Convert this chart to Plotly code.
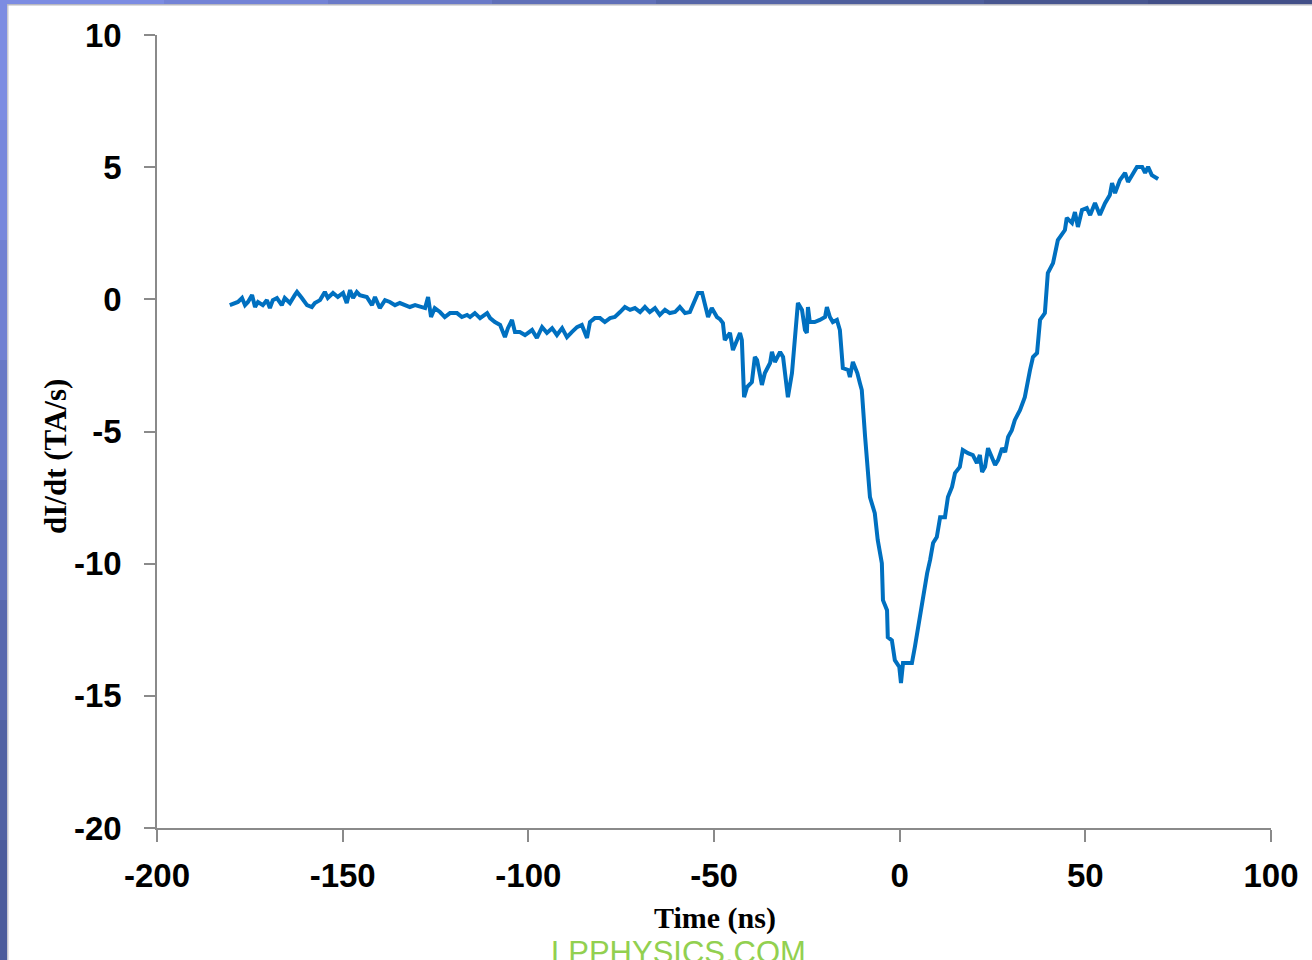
import plotly.graph_objects as go

# ---- data (time in ns, dI/dt in TA/s) ----
time_ns = [
    -180.4, -179.0, -178.2, -177.1, -176.3, -175.5, -174.4, -173.6, -172.8, -171.5,
    -170.4, -169.6, -168.8, -167.7, -166.4, -165.6, -164.2, -162.9, -162.3, -161.0,
    -159.6, -158.3, -157.5, -156.1, -154.8, -154.0, -152.6, -151.3, -149.9, -148.9,
    -148.0, -147.2, -146.2, -145.4, -143.5, -142.1, -141.3, -140.0, -138.6, -137.3,
    -135.9, -134.6, -133.2, -131.9, -130.5, -129.2, -127.8, -127.0, -126.2, -125.2,
    -123.8, -122.5, -121.1, -119.2, -117.9, -116.5, -115.7, -114.4, -113.0, -111.1,
    -110.3, -109.0, -107.6, -106.3, -105.5, -104.4, -103.6, -102.3, -100.9, -99.0,
    -97.7, -96.3, -95.0, -93.6, -92.3, -90.9, -89.6, -88.3, -86.9, -85.6,
    -84.2, -83.4, -82.1, -80.7, -79.4, -78.0, -76.7, -75.3, -74.0, -72.6,
    -71.3, -69.9, -68.6, -67.3, -65.9, -64.6, -63.2, -61.9, -60.5, -59.2,
    -57.8, -56.5, -55.1, -54.3, -53.2, -52.4, -51.6, -50.6, -49.2, -48.4,
    -47.6, -47.1, -45.7, -44.9, -43.8, -43.0, -42.5, -41.9, -41.1, -39.8,
    -39.0, -38.4, -37.1, -36.3, -34.9, -34.4, -33.6, -32.2, -31.4, -30.4,
    -30.1, -29.0, -28.2, -27.4, -26.3, -25.5, -25.0, -24.7, -24.2, -22.9,
    -21.5, -20.1, -19.6, -18.8, -18.0, -16.9, -16.1, -15.5, -15.3, -13.9,
    -13.4, -12.6, -11.4, -10.7, -10.2, -9.3, -8.0, -6.7, -5.9, -4.8,
    -4.5, -3.4, -3.2, -2.1, -1.3, -0.1, 0.35, 0.9, 2.2, 3.3,
    4.1, 5.5, 6.3, 7.4, 8.2, 9.0, 10.0, 10.9, 12.2, 13.0,
    14.1, 14.9, 16.2, 17.0, 18.4, 19.7, 20.8, 21.6, 22.2, 23.0,
    23.8, 24.9, 25.7, 26.5, 27.6, 28.4, 29.2, 30.2, 31.0, 32.4,
    33.7, 35.1, 35.9, 37.0, 37.8, 39.1, 39.9, 41.3, 42.6, 44.5,
    45.0, 46.4, 47.2, 48.0, 49.1, 50.4, 51.3, 52.6, 53.9, 55.3,
    56.6, 57.2, 58.0, 59.3, 60.7, 61.5, 62.5, 63.9, 65.3, 66.1,
    66.9, 67.9, 69.6,
]

didt_tas = [
    -0.22, -0.14, -0.10, 0.05, -0.22, -0.10, 0.16, -0.29, -0.10, -0.22,
    -0.03, -0.33, -0.03, 0.05, -0.22, 0.05, -0.14, 0.16, 0.28, 0.05,
    -0.22, -0.29, -0.14, -0.03, 0.28, 0.05, 0.24, 0.09, 0.24, -0.14,
    0.35, 0.05, 0.28, 0.16, 0.09, -0.22, 0.09, -0.33, -0.03, -0.10,
    -0.22, -0.14, -0.22, -0.29, -0.22, -0.29, -0.33, 0.09, -0.67, -0.33,
    -0.48, -0.67, -0.52, -0.52, -0.67, -0.59, -0.67, -0.52, -0.71, -0.52,
    -0.71, -0.86, -0.97, -1.43, -1.09, -0.78, -1.24, -1.24, -1.35, -1.16,
    -1.46, -1.05, -1.27, -1.09, -1.35, -1.09, -1.43, -1.24, -1.05, -0.97,
    -1.46, -0.86, -0.71, -0.71, -0.86, -0.71, -0.67, -0.48, -0.29, -0.40,
    -0.33, -0.48, -0.29, -0.48, -0.33, -0.59, -0.40, -0.52, -0.48, -0.29,
    -0.52, -0.48, -0.03, 0.24, 0.24, -0.22, -0.67, -0.33, -0.67, -0.75,
    -0.90, -1.54, -1.27, -1.92, -1.54, -1.27, -1.54, -3.70, -3.32, -3.13,
    -2.18, -2.30, -3.24, -2.79, -2.41, -1.99, -2.37, -1.99, -2.18, -3.32,
    -3.70, -2.79, -1.54, -0.14, -0.40, -1.16, -1.27, -0.29, -0.86, -0.86,
    -0.78, -0.67, -0.29, -0.67, -0.86, -0.78, -1.16, -2.03, -2.60, -2.67,
    -2.94, -2.37, -2.79, -3.17, -3.43, -5.21, -7.48, -8.09, -9.11, -9.98,
    -11.38, -11.76, -12.78, -12.90, -13.65, -13.91, -14.52, -13.76, -13.76, -13.76,
    -13.15, -11.87, -11.26, -10.36, -9.86, -9.22, -8.99, -8.24, -8.24, -7.48,
    -7.10, -6.57, -6.34, -5.70, -5.82, -5.89, -6.19, -5.89, -6.53, -6.34,
    -5.63, -5.97, -6.27, -6.08, -5.63, -5.78, -5.21, -4.95, -4.57, -4.19,
    -3.70, -2.68, -2.18, -2.03, -0.78, -0.52, 0.99, 1.37, 2.24, 2.62,
    3.08, 2.89, 3.30, 2.74, 3.38, 3.45, 3.19, 3.64, 3.19, 3.64,
    3.95, 4.40, 4.02, 4.51, 4.78, 4.44, 4.70, 5.01, 5.01, 4.78,
    5.01, 4.70, 4.55,
]

x_ticks = [-200, -150, -100, -50, 0, 50, 100]
y_ticks = [-20, -15, -10, -5, 0, 5, 10]
x_title = "Time (ns)"
y_title = "dI/dt (TA/s)"
watermark = "LPPHYSICS.COM"

# ---- layout geometry ----
W, H = 1312, 960
ML, MR, MT, MB = 157, 41, 35, 132
PW, PH = W - ML - MR, H - MT - MB


def px_to_paper_x(px):
    return (px - ML) / PW


def px_to_paper_y(py):
    return (H - MB - py) / PH


fig = go.Figure()
fig.add_trace(go.Scatter(
    x=time_ns, y=didt_tas, mode="lines",
    line=dict(color="#0070C0", width=4),
    showlegend=False, hoverinfo="skip",
))

axis_color = "#8a8a8a"
tick_font = dict(family="Liberation Sans, Arial, sans-serif", size=33,
                 color="black", weight="bold")

fig.update_xaxes(
    range=[-200, 100], tickvals=x_ticks, ticktext=[str(v) for v in x_ticks],
    showline=True, linecolor=axis_color, linewidth=1.5,
    ticks="outside", ticklen=12, tickwidth=1.5, tickcolor=axis_color,
    showgrid=False, zeroline=False, tickfont=tick_font,
    ticklabelstandoff=6,
)
fig.update_yaxes(
    range=[-20, 10], tickvals=y_ticks, ticktext=[str(v) for v in y_ticks],
    showline=True, linecolor=axis_color, linewidth=1.5,
    ticks="outside", ticklen=11, tickwidth=1.5, tickcolor=axis_color,
    showgrid=False, zeroline=False, tickfont=tick_font,
    ticklabelstandoff=16,
)

# frame decoration (blue slide border on left and top)
shapes = []
left_cols = ["#7c8ce2", "#7787dc", "#7080d2", "#6878c6", "#6070ba", "#5868ae", "#5262a4", "#4c5c9c"]
n = len(left_cols)
for i, c in enumerate(left_cols):
    shapes.append(dict(type="rect", xref="paper", yref="paper", layer="above",
                       x0=px_to_paper_x(0), x1=px_to_paper_x(7),
                       y0=px_to_paper_y(H * (i + 1) / n), y1=px_to_paper_y(H * i / n),
                       fillcolor=c, line=dict(width=0)))
top_cols = ["#7c8ce2", "#7383d6", "#6a7ac8", "#6070b8", "#5666a8", "#4e5e9c", "#485690", "#424f88"]
n = len(top_cols)
for i, c in enumerate(top_cols):
    shapes.append(dict(type="rect", xref="paper", yref="paper", layer="above",
                       x0=px_to_paper_x(W * i / n), x1=px_to_paper_x(W * (i + 1) / n),
                       y0=px_to_paper_y(4), y1=px_to_paper_y(0),
                       fillcolor=c, line=dict(width=0)))
shapes.append(dict(type="rect", xref="paper", yref="paper", layer="above",
                   x0=px_to_paper_x(7), x1=px_to_paper_x(8.5),
                   y0=px_to_paper_y(H), y1=px_to_paper_y(4),
                   fillcolor="#c8c8d0", line=dict(width=0)))
shapes.append(dict(type="rect", xref="paper", yref="paper", layer="above",
                   x0=px_to_paper_x(7), x1=px_to_paper_x(W),
                   y0=px_to_paper_y(5.5), y1=px_to_paper_y(4),
                   fillcolor="#b8b8c0", line=dict(width=0)))

annotations = [
    dict(text=f"<b>{x_title}</b>", xref="paper", yref="paper",
         x=px_to_paper_x(715), y=px_to_paper_y(918), xanchor="center", yanchor="middle",
         showarrow=False,
         font=dict(family="Liberation Serif, Times New Roman, serif", size=30, color="black")),
    dict(text=f"<b>{y_title}</b>", xref="paper", yref="paper",
         x=px_to_paper_x(55), y=px_to_paper_y(457), xanchor="center", yanchor="middle",
         textangle=-90, showarrow=False,
         font=dict(family="Liberation Serif, Times New Roman, serif", size=31, color="black")),
    dict(text=watermark, xref="paper", yref="paper",
         x=px_to_paper_x(678), y=px_to_paper_y(952), xanchor="center", yanchor="middle",
         showarrow=False,
         font=dict(family="Liberation Sans, Arial, sans-serif", size=31, color="#92d050")),
]

fig.update_layout(
    width=W, height=H, autosize=False,
    margin=dict(l=ML, r=MR, t=MT, b=MB, pad=0),
    paper_bgcolor="white", plot_bgcolor="white",
    shapes=shapes, annotations=annotations,
    showlegend=False,
)
fig.update_xaxes(automargin=False)
fig.update_yaxes(automargin=False)

fig.write_html(
    "out.html",
    config={"displayModeBar": False},
    post_script="document.body.style.margin='0';document.body.style.padding='0';"
                "document.documentElement.style.overflow='hidden';",
)
